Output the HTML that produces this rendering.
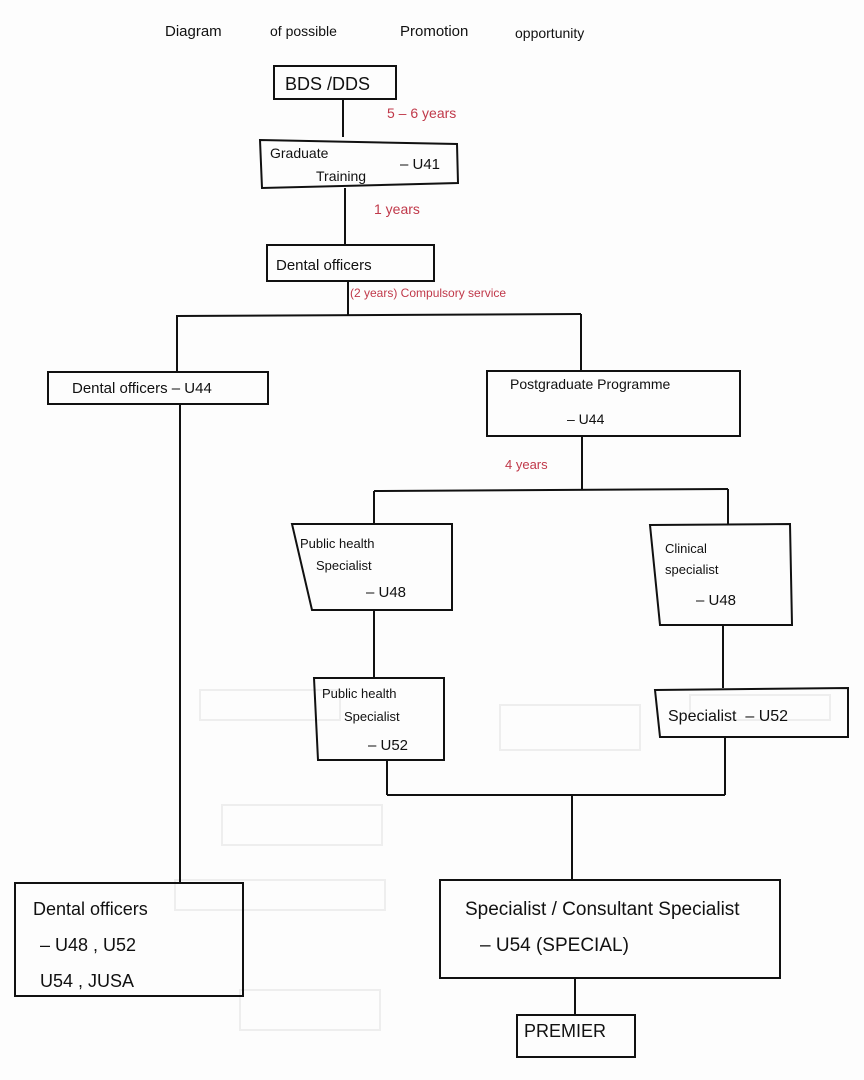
<!DOCTYPE html>
<html><head><meta charset="utf-8"><style>
html,body{margin:0;padding:0;background:#fdfdfd;}
svg{display:block;}
text{font-family:"Liberation Sans",sans-serif;fill:#111;}
.r{fill:#c0394a;}
</style></head><body>
<svg width="864" height="1080" viewBox="0 0 864 1080" xmlns="http://www.w3.org/2000/svg">
<g fill="none" stroke="#eeeeee" stroke-width="2">
<rect x="200" y="690" width="140" height="30"/><rect x="500" y="705" width="140" height="45"/><rect x="690" y="695" width="140" height="25"/>
<rect x="222" y="805" width="160" height="40"/><rect x="175" y="880" width="210" height="30"/><rect x="240" y="990" width="140" height="40"/>
</g>
<text x="165" y="36" font-size="15">Diagram</text>
<text x="270" y="36" font-size="14">of possible</text>
<text x="400" y="36" font-size="15">Promotion</text>
<text x="515" y="38" font-size="14">opportunity</text>
<g fill="none" stroke="#111" stroke-width="2">
<rect x="274" y="66" width="122" height="33"/>
<line x1="343" y1="100" x2="343" y2="137"/>
<path d="M260 140 L457 144 L458 183 L262 188 Z"/>
<line x1="345" y1="188" x2="345" y2="244"/>
<rect x="267" y="245" width="167" height="36"/>
<line x1="348" y1="281" x2="348" y2="315"/>
<line x1="176" y1="316" x2="581" y2="314"/>
<line x1="177" y1="316" x2="177" y2="372"/>
<line x1="581" y1="314" x2="581" y2="371"/>
<rect x="48" y="372" width="220" height="32"/>
<rect x="487" y="371" width="253" height="65"/>
<line x1="180" y1="404" x2="180" y2="882"/>
<line x1="582" y1="436" x2="582" y2="490"/>
<line x1="374" y1="491" x2="728" y2="489"/>
<line x1="374" y1="491" x2="374" y2="525"/>
<line x1="728" y1="489" x2="728" y2="525"/>
<path d="M292 524 L452 524 L452 610 L312 610 Z"/>
<path d="M650 525 L790 524 L792 625 L660 625 Z"/>
<line x1="374" y1="610" x2="374" y2="678"/>
<line x1="723" y1="625" x2="723" y2="688"/>
<path d="M314 678 L444 678 L444 760 L318 760 Z"/>
<path d="M655 690 L848 688 L848 737 L660 737 Z"/>
<line x1="387" y1="760" x2="387" y2="795"/>
<line x1="725" y1="737" x2="725" y2="795"/>
<line x1="387" y1="795" x2="725" y2="795"/>
<line x1="572" y1="795" x2="572" y2="880"/>
<rect x="440" y="880" width="340" height="98"/>
<rect x="15" y="883" width="228" height="113"/>
<line x1="575" y1="978" x2="575" y2="1015"/>
<rect x="517" y="1015" width="118" height="42"/>
</g>
<text x="285" y="90" font-size="18">BDS /DDS</text>
<text x="387" y="118" font-size="14" class="r">5 – 6 years</text>
<text x="270" y="158" font-size="14">Graduate</text>
<text x="316" y="181" font-size="14">Training</text>
<text x="400" y="169" font-size="15">– U41</text>
<text x="374" y="214" font-size="14" class="r">1 years</text>
<text x="276" y="270" font-size="15">Dental officers</text>
<text x="350" y="297" font-size="12" class="r">(2 years) Compulsory service</text>
<text x="72" y="393" font-size="15">Dental officers – U44</text>
<text x="510" y="389" font-size="14">Postgraduate Programme</text>
<text x="567" y="424" font-size="14">– U44</text>
<text x="505" y="469" font-size="13" class="r">4 years</text>
<text x="300" y="548" font-size="13">Public health</text>
<text x="316" y="570" font-size="13">Specialist</text>
<text x="366" y="597" font-size="15">– U48</text>
<text x="665" y="553" font-size="13">Clinical</text>
<text x="665" y="574" font-size="13">specialist</text>
<text x="696" y="605" font-size="15">– U48</text>
<text x="322" y="698" font-size="13">Public health</text>
<text x="344" y="721" font-size="13">Specialist</text>
<text x="368" y="750" font-size="15">– U52</text>
<text x="668" y="721" font-size="16">Specialist&#160;&#160;– U52</text>
<text x="465" y="915" font-size="19">Specialist / Consultant Specialist</text>
<text x="480" y="951" font-size="19">– U54 (SPECIAL)</text>
<text x="33" y="915" font-size="18">Dental officers</text>
<text x="40" y="951" font-size="18">– U48 , U52</text>
<text x="40" y="987" font-size="18">U54 , JUSA</text>
<text x="524" y="1037" font-size="18">PREMIER</text>
</svg>
</body></html>
